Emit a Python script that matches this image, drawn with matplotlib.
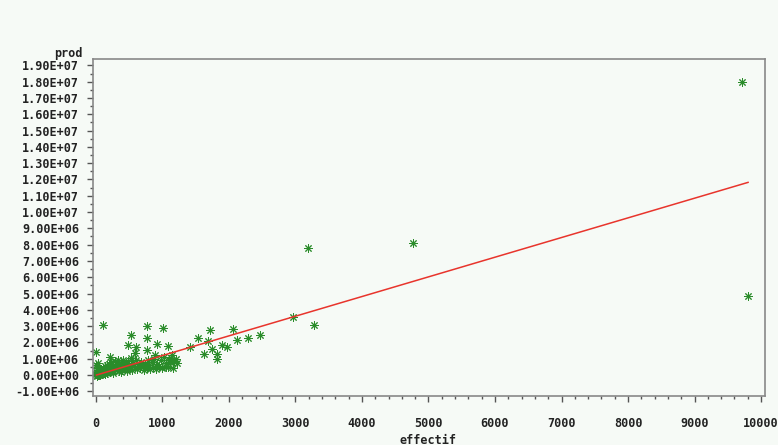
import matplotlib
matplotlib.use("Agg")
from matplotlib import pyplot as plt
from matplotlib.ticker import MultipleLocator, FuncFormatter

# effectif / prod (prod en millions)
cluster_x = [5, 10, 15, 20, 25, 30, 35, 40, 45, 50, 55, 60, 65, 70, 75, 80, 85, 90, 95,
             100, 110, 115, 120, 130, 135, 140, 150, 160, 165, 170, 180, 190, 200, 210,
             220, 230, 240, 250, 260, 270, 280, 290, 300, 310, 320, 330, 340, 350, 360,
             380, 390, 400, 410, 420, 440, 450, 460, 480, 500, 520, 530, 540, 560, 580,
             600, 620, 640, 660, 680, 700, 720, 740, 760, 780, 800, 820, 840, 860, 880,
             900, 920, 950, 980, 1000, 1020, 1050, 1080, 1100, 1120, 1150, 1170, 1200,
             1220, 12, 28, 48, 18, 8, 30, 60, 140, 250, 380, 470]
cluster_y = [0.05, 0.12, 0.02, 0.2, 0.08, 0.15, 0.3, 0.05, 0.22, 0.1, 0.35, 0.18, 0.04,
             0.28, 0.12, 0.4, 0.2, 0.08, 0.32, 0.15, 0.45, 0.25, 0.1, 0.38, 0.55, 0.2, 0.3,
             0.6, 0.12, 0.42, 0.25, 0.7, 0.35, 0.18, 0.5, 0.8, 0.3, 0.22, 0.6, 0.4, 0.85,
             0.28, 0.5, 0.7, 0.35, 0.9, 0.25, 0.55, 0.4, 0.75, 0.3, 0.6, 0.95, 0.45, 0.35,
             0.7, 0.5, 0.85, 0.4, 0.6, 1.05, 0.3, 0.75, 0.5, 0.9, 0.35, 0.65, 0.45, 0.8,
             0.55, 0.3, 0.7, 0.45, 0.95, 0.6, 0.35, 0.8, 0.5, 1.0, 0.4, 0.7, 0.55, 0.9,
             0.45, 1.1, 0.75, 0.5, 0.95, 0.8, 1.2, 0.85, 1.0, 0.75, -0.05, -0.02, 0.0,
             0.45, 0.6, 0.75, 0.0, 0.05, 0.1, 0.2, 0.25]

sparse_x = [105, 767, 1007, 526, 767, 481, 602, 917, 1083, 767, 586, 0, 210, 1128, 1158,
            1053, 887, 1714, 1534, 1684, 2060, 1413, 1895, 1970, 2120, 2286, 2466, 2962,
            1744, 1624, 1820, 1820, 3188, 4767, 3278, 9714, 9805]
sparse_y = [3.07, 3.0, 2.88, 2.45, 2.27, 1.84, 1.72, 1.9, 1.78, 1.53, 1.35, 1.41, 1.1, 1.04,
            0.43, 0.49, 1.23, 2.76, 2.27, 2.1, 2.82, 1.72, 1.84, 1.72, 2.15, 2.27, 2.45, 3.56,
            1.6, 1.29, 1.29, 0.98, 7.8, 8.1, 3.07, 18.0, 4.85]

# droite de regression
line_x = [8, 9805]
line_y = [0.0, 11.82]

effectif = cluster_x + sparse_x
prod = [v * 1e6 for v in cluster_y + sparse_y]

bg = '#f6faf6'
fig = plt.figure(figsize=(7.78, 4.45), dpi=100, facecolor=bg)
ax = fig.add_axes([0.1195, 0.110, 0.8638, 0.7574], facecolor=bg)

ax.plot(effectif, prod, linestyle='none', marker=(8, 2, 0), markersize=6,
        markeredgewidth=0.7, color='#2a8c2a')
ax.plot(line_x, [v * 1e6 for v in line_y], color='#e8342c', linewidth=1.1)

ax.set_xlim(-45, 10060)
ax.set_ylim(-1.29e6, 19.39e6)

ax.xaxis.set_major_locator(MultipleLocator(1000))
ax.xaxis.set_minor_locator(MultipleLocator(200))
ax.yaxis.set_major_locator(MultipleLocator(1e6))
ax.yaxis.set_minor_locator(MultipleLocator(5e5))
ax.yaxis.set_major_formatter(FuncFormatter(lambda v, p: '%.2E' % v))

font = dict(family='DejaVu Sans Mono', weight='bold', size=8.5)
ax.tick_params(which='major', direction='out', length=4, width=1, color='#555555',
               labelsize=8.5)
ax.tick_params(axis='x', which='major', pad=11)
ax.tick_params(axis='y', which='major', pad=6)
ax.tick_params(which='minor', direction='out', length=2.5, width=1, color='#555555')
for lab in ax.get_xticklabels() + ax.get_yticklabels():
    lab.set_fontfamily('DejaVu Sans Mono')
    lab.set_fontweight('bold')
    lab.set_color('#222222')

for s in ax.spines.values():
    s.set_color('#888888')
    s.set_linewidth(1.2)

fig.text(83 / 778, 1 - 53 / 445, 'prod', ha='right', va='center', color='#222222', **font)
fig.text(428 / 778, 1 - 440 / 445, 'effectif', ha='center', va='center',
         color='#222222', **font)

fig.savefig('out.png', dpi=100, facecolor=bg)
